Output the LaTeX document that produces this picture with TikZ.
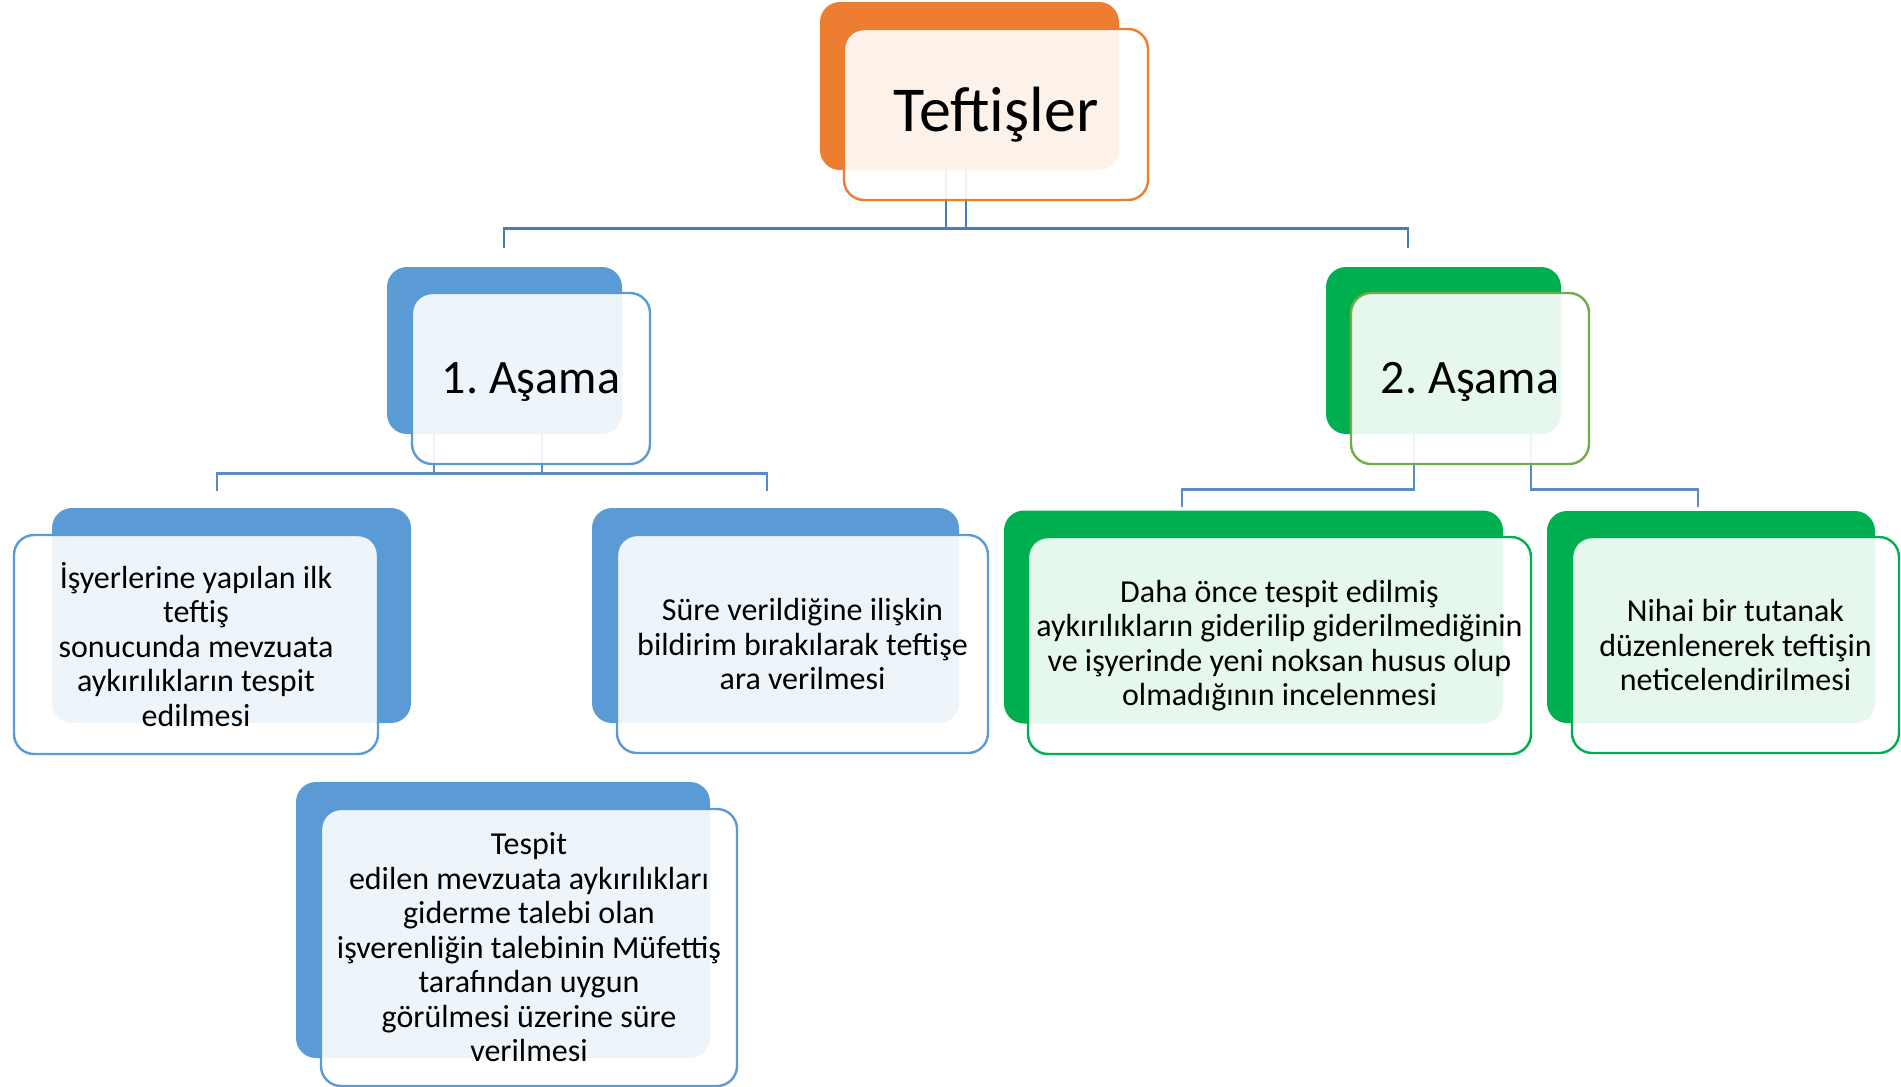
\documentclass[tikz,border=0pt]{standalone}
\usepackage{fontspec}
\setmainfont{Carlito}
\frenchspacing
\definecolor{orng}{HTML}{ED7D31}
\definecolor{blu}{HTML}{5B9BD5}
\definecolor{grn}{HTML}{00B050}
\definecolor{lgrn}{HTML}{70AD47}
\definecolor{lineA}{HTML}{4A7DB5}
\definecolor{lineB}{HTML}{5A8DC6}
\begin{document}
\begin{tikzpicture}[x=0.5pt,y=-0.5pt,
  backbox/.style={rectangle,rounded corners=10pt,inner sep=0pt,draw=none},
  frontbox/.style={rectangle,rounded corners=10pt,inner sep=0pt,line width=1.2pt,
     fill=white,fill opacity=0.9,text opacity=1,text=black,align=center},
  small/.style={font=\fontsize{16pt}{17.25pt}\selectfont},
  conn/.style={line width=1.15pt,lineB},
  connA/.style={line width=1.15pt,lineA}]
\useasboundingbox (0,0) rectangle (1901,1087);
% back shapes
\node[backbox,fill=orng,minimum width=149.5pt,minimum height=84pt] (tb) at (969.5,86) {};
\node[backbox,fill=blu,minimum width=117.5pt,minimum height=83.5pt] (a1b) at (504.5,350.5) {};
\node[backbox,fill=grn,minimum width=117.5pt,minimum height=83.5pt] (a2b) at (1443.5,350.5) {};
\node[backbox,fill=blu,minimum width=179.5pt,minimum height=107.5pt] (c1b) at (231.5,615.5) {};
\node[backbox,fill=blu,minimum width=183.5pt,minimum height=107.5pt] (c2b) at (775.5,615.5) {};
\node[backbox,fill=blu,minimum width=207pt,minimum height=138pt] (c3b) at (503,920) {};
\node[backbox,fill=grn,minimum width=249.5pt,minimum height=106.5pt] (d1b) at (1253.5,617) {};
\node[backbox,fill=grn,minimum width=164pt,minimum height=106pt] (d2b) at (1711,617) {};
% end points of connectors
\coordinate (e1) at (504,248);
\coordinate (e2) at (1408,248);
\coordinate (f1) at (217,491);
\coordinate (f2) at (767,491);
\coordinate (g1) at (1182,507);
\coordinate (g2) at (1698,507);
% connectors
\draw[connA] ([xshift=-11.75pt]tb.south) -- ++(0,58) coordinate (h1);
\draw[connA] ([xshift=-1.75pt]tb.south) -- ++(0,58) coordinate (h2);
\draw[connA] (e1) |- (h1) -- (h2) -| (e2);
\draw[conn] ([xshift=-35.25pt]a1b.south) -- ++(0,39) coordinate (k1);
\draw[conn] ([xshift=18.75pt]a1b.south) -- ++(0,39) coordinate (k2);
\draw[conn] (f1) |- (k1) -- (k2) -| (f2);
\draw[conn] ([xshift=-14.75pt]a2b.south) -- ++(0,55) -| (g1);
\draw[conn] ([xshift=43.75pt]a2b.south) -- ++(0,55) -| (g2);
% front shapes with text
\node[frontbox,draw=orng,minimum width=152pt,minimum height=85.5pt,font=\fontsize{32pt}{38pt}\selectfont] (tf) at (996,114.5) {Teftişler};
\node[frontbox,draw=blu,minimum width=119pt,minimum height=85.5pt,font=\fontsize{24pt}{29pt}\selectfont] (a1f) at (531,378.5) {\raisebox{-7.7pt}[0pt][0pt]{1. Aşama}};
\node[frontbox,draw=lgrn,minimum width=119pt,minimum height=85.5pt,font=\fontsize{24pt}{29pt}\selectfont] (a2f) at (1470,378.5) {\raisebox{-7.7pt}[0pt][0pt]{2. Aşama}};
\node[frontbox,small,draw=blu,minimum width=182pt,minimum height=109.5pt] (c1f) at (196,644.5) {İşyerlerine yapılan ilk\\teftiş\\sonucunda mevzuata\\aykırılıkların tespit\\edilmesi};
\node[frontbox,small,draw=blu,minimum width=185.5pt,minimum height=109pt] (c2f) at (802.5,644) {Süre verildiğine ilişkin\\bildirim bırakılarak teftişe\\ara verilmesi};
\node[frontbox,small,draw=blu,minimum width=208pt,minimum height=138.5pt] (c3f) at (529,947.5) {Tespit\\edilen mevzuata aykırılıkları\\giderme talebi olan\\işverenliğin talebinin Müfettiş\\tarafından uygun\\görülmesi üzerine süre\\verilmesi};
\node[frontbox,small,draw=grn,minimum width=251.5pt,minimum height=108.5pt] (d1f) at (1279.5,645.5) {Daha önce tespit edilmiş\\aykırılıkların giderilip giderilmediğinin\\ve işyerinde yeni noksan husus olup\\olmadığının incelenmesi};
\node[frontbox,small,draw=grn,minimum width=163.5pt,minimum height=108pt] (d2f) at (1735.5,645) {Nihai bir tutanak\\düzenlenerek teftişin\\neticelendirilmesi};
\end{tikzpicture}
\end{document}
